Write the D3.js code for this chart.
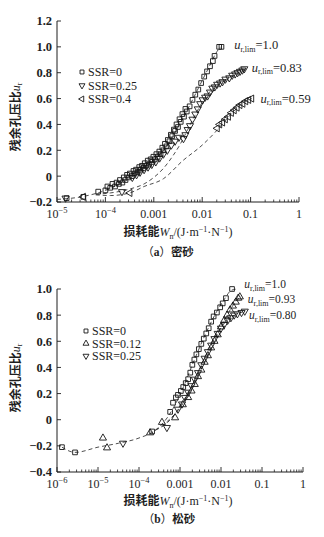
<!DOCTYPE html>
<html><head><meta charset="utf-8">
<script src="https://cdn.jsdelivr.net/npm/d3@7"></script>
<style>body{margin:0;background:#fff}svg{display:block}</style>
</head><body><svg id="c" width="324" height="537"></svg>
<script>
// ---------- Panel (a) 密砂 ----------
const aXTicks = [1e-5,1e-4,1e-3,1e-2,1e-1,1];
const aXLabels = [["10","−5"],["10","−4"],["0.001"],["0.01"],["0.1"],["1"]];
const aYTicks = [-0.2,0,0.2,0.4,0.6,0.8,1.0,1.2];
const aYLabels = ["−0.2","0","0.2","0.4","0.6","0.8","1.0","1.2"];
const aSeriesNames = ["SSR=0","SSR=0.25","SSR=0.4"];
const aLimLabels = ["1.0","0.83","0.59"];
const aLimPos = [[0.046,1.015],[0.105,0.84],[0.16,0.60]];

const aSSR0 = [[1.58e-5,-0.17],[3.5e-5,-0.16],[7.1e-5,-0.12],[1.0e-4,-0.11],[1.26e-4,-0.09],[1.58e-4,-0.08],[1.9e-4,-0.06],[2.24e-4,-0.05],[2.6e-4,-0.03],[3.0e-4,-0.01],[3.5e-4,0.0],[4.0e-4,0.02],[4.6e-4,0.03],[5.2e-4,0.05],[6.0e-4,0.06],[6.9e-4,0.08],[7.9e-4,0.09],[9.1e-4,0.11],[1.05e-3,0.13],[1.2e-3,0.15],[1.38e-3,0.17],[1.58e-3,0.20],[1.82e-3,0.23],[2.1e-3,0.27],[2.4e-3,0.31],[2.75e-3,0.35],[3.16e-3,0.38],[3.6e-3,0.42],[4.2e-3,0.46],[4.8e-3,0.50],[5.5e-3,0.54],[6.3e-3,0.59],[7.2e-3,0.63],[8.3e-3,0.67],[9.5e-3,0.72],[0.011,0.77],[0.0126,0.81],[0.0145,0.85],[0.0166,0.89],[0.018,0.93],[0.0224,1.0],[0.025,1.0],
  [1.1e-4,-0.08],[1.4e-4,-0.06],[1.7e-4,-0.05],[2.0e-4,-0.03],[2.4e-4,-0.01],[2.8e-4,0.01],[3.2e-4,0.02],[3.8e-4,0.04],[4.3e-4,0.05],[5.0e-4,0.07],[5.7e-4,0.08],[6.5e-4,0.10],[7.5e-4,0.12],[8.6e-4,0.13],[9.8e-4,0.15],[1.13e-3,0.17],[1.3e-3,0.19],[1.5e-3,0.22],[1.7e-3,0.25],[1.95e-3,0.28],[2.25e-3,0.32],[2.6e-3,0.36],[2.95e-3,0.40],[3.4e-3,0.44],[3.9e-3,0.48],[4.5e-3,0.52]];
const aSSR25 = [[1.5e-5,-0.17],[2.2e-4,-0.12],[3.6e-4,-0.01],[4.4e-4,0.01],[5.2e-4,0.03],[6.3e-4,0.05],[7.6e-4,0.07],[9.1e-4,0.09],[1.1e-3,0.11],[1.32e-3,0.14],[1.58e-3,0.17],[1.9e-3,0.20],[2.3e-3,0.24],[2.75e-3,0.27],[3.3e-3,0.30],[4.1e-3,0.29],[4.5e-3,0.32],[5.0e-3,0.36],[5.6e-3,0.39],[6.3e-3,0.44],[7.2e-3,0.48],[8.1e-3,0.52],[9.1e-3,0.56],[0.0102,0.59],[0.0115,0.61],[0.0129,0.62],[0.0145,0.65],[0.0162,0.68],[0.0182,0.69],[0.0204,0.71],[0.0234,0.72],[0.0263,0.73],[0.0302,0.75],[0.0363,0.76],[0.0417,0.78],[0.0479,0.79],[0.0537,0.80],[0.0603,0.81],[0.0676,0.82],[0.0741,0.83]];
const aSSR40 = [[3.5e-5,-0.16],[3.2e-4,-0.13],[0.0204,0.37],[0.0229,0.40],[0.0263,0.415],[0.030,0.44],[0.0347,0.46],[0.040,0.49],[0.0457,0.51],[0.0525,0.53],[0.060,0.55],[0.069,0.56],[0.079,0.58],[0.091,0.59],[0.105,0.60]];
const aFit0 = [[1e-5,-0.18],[3.16e-5,-0.16],[1e-4,-0.11],[2.51e-4,-0.04],[6.31e-4,0.06],[1.58e-3,0.20],[3.16e-3,0.38],[6.31e-3,0.59],[0.01,0.74],[0.0141,0.85],[0.0191,0.95],[0.024,1.0]];
const aFit1 = [[6.31e-5,-0.14],[1.26e-4,-0.13],[3.16e-4,-0.10],[6.31e-4,-0.06],[1e-3,-0.01],[1.58e-3,0.06],[2.51e-3,0.16],[3.55e-3,0.25],[5.01e-3,0.36],[7.08e-3,0.47],[0.01,0.57],[0.0158,0.67],[0.0316,0.75],[0.0631,0.81],[0.0794,0.83]];
const aFit2 = [[6.31e-5,-0.145],[1.26e-4,-0.15],[3.16e-4,-0.13],[6.31e-4,-0.08],[1.58e-3,-0.02],[3.98e-3,0.12],[0.01,0.24],[0.0186,0.34],[0.0316,0.44],[0.0501,0.52],[0.0794,0.58],[0.105,0.60]];

// ---------- Panel (b) 松砂 ----------
const bXTicks = [1e-6,1e-5,1e-4,1e-3,1e-2,1e-1,1];
const bXLabels = [["10","−6"],["10","−5"],["10","−4"],["0.001"],["0.01"],["0.1"],["1"]];
const bYTicks = [-0.4,-0.2,0,0.2,0.4,0.6,0.8,1.0];
const bYLabels = ["−0.4","−0.2","0","0.2","0.4","0.6","0.8","1.0"];
const bSeriesNames = ["SSR=0","SSR=0.12","SSR=0.25"];
const bLimLabels = ["1.0","0.93","0.80"];
const bLimPos = [[0.037,1.035],[0.045,0.92],[0.048,0.80]];

const bSSR0 = [[1.32e-6,-0.21],[2.75e-6,-0.25],[2.09e-4,-0.09],[5.75e-4,0.06],[6.76e-4,0.13],[7.94e-4,0.17],[8.91e-4,0.19],[1.05e-3,0.22],[1.2e-3,0.25],[1.38e-3,0.28],[1.58e-3,0.31],[1.78e-3,0.36],[2.0e-3,0.42],[2.24e-3,0.46],[2.51e-3,0.50],[2.88e-3,0.54],[3.31e-3,0.58],[3.8e-3,0.62],[4.37e-3,0.66],[5.01e-3,0.70],[5.75e-3,0.75],[6.61e-3,0.79],[7.94e-3,0.82],[9.55e-3,0.86],[0.011,0.89],[0.0132,0.93],[0.0186,1.0]];
const bSSR12 = [[1.32e-5,-0.14],[1.66e-5,-0.215],[1.86e-4,-0.10],[3.63e-4,-0.02],[7.59e-4,0.015],[1.17e-3,0.115],[1.58e-3,0.17],[1.91e-3,0.22],[2.29e-3,0.27],[2.75e-3,0.33],[3.31e-3,0.38],[3.98e-3,0.44],[4.79e-3,0.49],[5.75e-3,0.55],[6.92e-3,0.60],[8.32e-3,0.65],[0.01,0.71],[0.012,0.76],[0.0141,0.80],[0.0166,0.84],[0.0195,0.87],[0.0229,0.90],[0.0263,0.93],[0.0288,0.94]];
const bSSR25 = [[4.07e-5,-0.18],[4.79e-4,-0.06],[8.91e-4,0.08],[1.12e-3,0.12],[1.32e-3,0.17],[1.58e-3,0.21],[1.91e-3,0.26],[2.29e-3,0.31],[2.75e-3,0.36],[3.31e-3,0.42],[3.98e-3,0.47],[4.79e-3,0.52],[5.75e-3,0.57],[6.92e-3,0.62],[8.32e-3,0.66],[0.01,0.70],[0.012,0.73],[0.0145,0.76],[0.0174,0.78],[0.0209,0.80],[0.0251,0.81],[0.0316,0.82],[0.038,0.83]];
const bFit0 = [[1.32e-6,-0.21],[2.75e-6,-0.25],[1e-5,-0.21],[3.16e-5,-0.18],[1e-4,-0.14],[2.51e-4,-0.08],[5.01e-4,0.02],[1e-3,0.19],[2e-3,0.42],[3.98e-3,0.64],[7.94e-3,0.83],[0.0126,0.93],[0.0178,0.99],[0.0251,1.0]];
const bFit1 = [[2.51e-4,-0.08],[5.01e-4,-0.01],[1e-3,0.09],[2e-3,0.25],[3.98e-3,0.44],[7.94e-3,0.64],[0.0141,0.80],[0.0224,0.90],[0.0316,0.95]];
const bFit2 = [[2.51e-4,-0.08],[5.01e-4,-0.02],[1e-3,0.10],[2e-3,0.27],[3.98e-3,0.47],[7.94e-3,0.66],[0.0141,0.76],[0.0251,0.81],[0.0398,0.83]];

// ---------- drawing ----------
const svg = d3.select("#c");
const SERIF = "'Liberation Serif','Times New Roman',serif";
const CJK = "'Noto Sans CJK SC','Noto Sans CJK JP',sans-serif";
const INK = "#1e1e1e";

const shapes = {
  square: {type: d3.symbolSquare, size: 22, rot: 0},
  down:   {type: d3.symbolTriangle, size: 22, rot: 180},
  up:     {type: d3.symbolTriangle, size: 22, rot: 0},
  left:   {type: d3.symbolTriangle, size: 22, rot: -90}
};
function marker(g, x, y, shape, scale) {
  const s = shapes[shape];
  g.append("path")
    .attr("d", d3.symbol().type(s.type).size(s.size * (scale || 1))())
    .attr("transform", `translate(${x},${y}) rotate(${s.rot})`)
    .attr("fill", "none").attr("stroke", "#151515").attr("stroke-width", 0.9);
}

function panel(cfg) {
  const g = svg.append("g");
  const x = d3.scaleLog().domain(cfg.xDomain).range(cfg.xRange);
  const y = d3.scaleLinear().domain(cfg.yDomain).range(cfg.yRange);
  const y0 = cfg.yRange[0], x0 = cfg.xRange[0];

  g.append("line").attr("x1", x0).attr("x2", cfg.xRange[1]).attr("y1", y0).attr("y2", y0)
    .attr("stroke", INK).attr("stroke-width", 1);
  g.append("line").attr("x1", x0).attr("x2", x0).attr("y1", y0).attr("y2", cfg.yRange[1])
    .attr("stroke", INK).attr("stroke-width", 1);

  const [lo, hi] = cfg.xDomain;
  const minor = [];
  for (let e = Math.round(Math.log10(lo)); e < Math.round(Math.log10(hi)); e++) {
    for (let k = 2; k <= 9; k++) minor.push(k * Math.pow(10, e));
  }
  g.selectAll(".xmin").data(minor).enter().append("line")
    .attr("x1", d => x(d)).attr("x2", d => x(d)).attr("y1", y0).attr("y2", y0 - 2.5)
    .attr("stroke", INK).attr("stroke-width", 0.8);
  g.selectAll(".xmaj").data(cfg.xTicks).enter().append("line")
    .attr("x1", d => x(d)).attr("x2", d => x(d)).attr("y1", y0).attr("y2", y0 - 5)
    .attr("stroke", INK).attr("stroke-width", 0.9);
  cfg.xTicks.forEach((t, i) => {
    const lab = cfg.xLabels[i];
    const tx = g.append("text").attr("x", x(t)).attr("y", y0 + 16)
      .attr("text-anchor", "middle").attr("font-family", SERIF).attr("font-size", 12)
      .attr("fill", INK);
    tx.append("tspan").text(lab[0]);
    if (lab[1]) tx.append("tspan").attr("dy", -5).attr("font-size", 8.5).text(lab[1]);
  });

  g.selectAll(".ymaj").data(cfg.yTicks).enter().append("line")
    .attr("x1", x0).attr("x2", x0 + 4).attr("y1", d => y(d)).attr("y2", d => y(d))
    .attr("stroke", INK).attr("stroke-width", 0.9);
  g.selectAll(".ylab").data(cfg.yTicks).enter().append("text")
    .attr("x", x0 - 5).attr("y", d => y(d)).attr("dy", "0.35em")
    .attr("text-anchor", "end").attr("font-family", SERIF).attr("font-size", 12.5)
    .attr("font-weight", "bold").attr("fill", INK)
    .text((d, i) => cfg.yLabels[i]);

  const line = d3.line().x(d => x(d[0])).y(d => y(d[1])).curve(d3.curveMonotoneX);
  cfg.fits.forEach(f => {
    g.append("path").attr("d", line(f)).attr("fill", "none")
      .attr("stroke", "#3a3a3a").attr("stroke-width", 0.9).attr("stroke-dasharray", "4,3");
  });

  cfg.series.forEach(s => {
    s.data.forEach(d => marker(g, x(d[0]), y(d[1]), s.shape));
  });

  cfg.series.forEach((s, i) => {
    const ly = cfg.legend.y + i * cfg.legend.dy;
    marker(g, cfg.legend.x, ly, s.shape, 0.7);
    g.append("text").attr("x", cfg.legend.x + 6).attr("y", ly).attr("dy", "0.35em")
      .attr("font-family", SERIF).attr("font-size", 12).attr("fill", INK).text(s.name);
  });

  cfg.lim.forEach((l, i) => {
    const t = g.append("text").attr("x", x(cfg.limPos[i][0])).attr("y", y(cfg.limPos[i][1]))
      .attr("dy", "0.35em").attr("font-family", SERIF).attr("font-size", cfg.limSize).attr("fill", INK);
    t.append("tspan").attr("font-style", "italic").text("u");
    t.append("tspan").attr("dy", 2.5).attr("font-size", 8).text("r,lim");
    t.append("tspan").attr("dy", -2.5).text("=" + l);
  });

  const yt = g.append("text")
    .attr("transform", `translate(${cfg.yTitle[0]},${cfg.yTitle[1]}) rotate(-90)`)
    .attr("text-anchor", "middle").attr("font-size", 12).attr("fill", INK);
  yt.append("tspan").attr("font-family", CJK).attr("font-weight", "bold").text("残余孔压比");
  yt.append("tspan").attr("font-family", SERIF).attr("font-style", "italic").text("u");
  yt.append("tspan").attr("font-family", SERIF).attr("font-size", 8).attr("dy", 2).text("r");

  const xt = g.append("text").attr("x", cfg.xTitle[0]).attr("y", cfg.xTitle[1])
    .attr("text-anchor", "middle").attr("font-size", 12).attr("fill", INK);
  xt.append("tspan").attr("font-family", CJK).attr("font-weight", "bold").text("损耗能");
  xt.append("tspan").attr("font-family", SERIF).attr("font-style", "italic").text("W");
  xt.append("tspan").attr("font-family", SERIF).attr("font-size", 8).attr("dy", 3).text("n");
  xt.append("tspan").attr("font-family", SERIF).attr("dy", -3).text("/(J·m");
  xt.append("tspan").attr("font-family", SERIF).attr("font-size", 8).attr("dy", -4).text("−1");
  xt.append("tspan").attr("font-family", SERIF).attr("dy", 4).text("·N");
  xt.append("tspan").attr("font-family", SERIF).attr("font-size", 8).attr("dy", -4).text("−1");
  xt.append("tspan").attr("font-family", SERIF).attr("dy", 4).text(")");

  const cap = g.append("text").attr("x", cfg.caption[0]).attr("y", cfg.caption[1])
    .attr("text-anchor", "middle").attr("font-size", 11.5).attr("fill", INK);
  cap.append("tspan").attr("font-family", CJK).text("（");
  cap.append("tspan").attr("font-family", SERIF).attr("font-weight", "bold").text(cfg.captionLetter);
  cap.append("tspan").attr("font-family", CJK).text("）");
  cap.append("tspan").attr("font-family", CJK).attr("font-weight", "bold").text(cfg.captionText);
}

panel({
  xDomain: [1e-5, 1], xRange: [57, 299],
  yDomain: [-0.2, 1.2], yRange: [202, 21],
  xTicks: aXTicks, xLabels: aXLabels, yTicks: aYTicks, yLabels: aYLabels,
  fits: [aFit0, aFit1, aFit2],
  series: [
    {name: aSeriesNames[0], data: aSSR0, shape: "square"},
    {name: aSeriesNames[1], data: aSSR25, shape: "down"},
    {name: aSeriesNames[2], data: aSSR40, shape: "left"}
  ],
  legend: {x: 82, y: 72, dy: 13.5},
  lim: aLimLabels, limPos: aLimPos, limSize: 12.5,
  yTitle: [20, 117], xTitle: [178, 236], caption: [168, 256],
  captionLetter: "a", captionText: "密砂"
});

panel({
  xDomain: [1e-6, 1], xRange: [57, 303],
  yDomain: [-0.4, 1.0], yRange: [472, 289],
  xTicks: bXTicks, xLabels: bXLabels, yTicks: bYTicks, yLabels: bYLabels,
  fits: [bFit0, bFit1, bFit2],
  series: [
    {name: bSeriesNames[0], data: bSSR0, shape: "square"},
    {name: bSeriesNames[1], data: bSSR12, shape: "up"},
    {name: bSeriesNames[2], data: bSSR25, shape: "down"}
  ],
  legend: {x: 86, y: 331, dy: 12.5},
  lim: bLimLabels, limPos: bLimPos, limSize: 11.5,
  yTitle: [20, 378], xTitle: [178, 505], caption: [169, 523],
  captionLetter: "b", captionText: "松砂"
});
</script>
</body></html>
